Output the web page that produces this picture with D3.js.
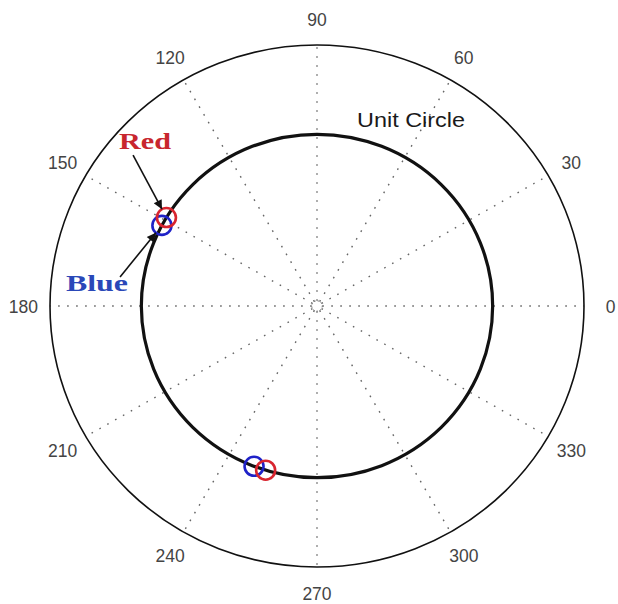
<!DOCTYPE html>
<html>
<head>
<meta charset="utf-8">
<script src="https://cdn.jsdelivr.net/npm/d3@7"></script>
<style>
  html, body { margin: 0; padding: 0; background: #fff; }
  svg { display: block; }
</style>
</head>
<body>
<svg id="chart" width="618" height="604"></svg>
<script>
// Polar axis: spoke angles (degrees) and their labels
const angleTicks = [0, 30, 60, 90, 120, 150, 180, 210, 240, 270, 300, 330];
const angleLabels = ["0", "30", "60", "90", "120", "150", "180", "210", "240", "270", "300", "330"];

// Radial extent of the plot and the unit circle
const radialMax = 1.52;
const unitRadius = [1];

// Root locations on the unit circle (angle in degrees, magnitude)
const redAngles = [149, 253];
const redRadii = [1, 1];
const blueAngles = [152, 249];
const blueRadii = [1, 1];

// Callout labels: text, arrow tail (polar, in data units)
const calloutNames = ["Red", "Blue"];
const calloutAngles = [140.0, 171.4];
const calloutRadii = [1.367, 1.134];

const svg = d3.select("#chart");
const cx = 317, cy = 306, rx = 267, ry = 261;

const x = d3.scaleLinear().domain([-radialMax, radialMax]).range([cx - rx, cx + rx]);
const y = d3.scaleLinear().domain([-radialMax, radialMax]).range([cy + ry, cy - ry]);
const rad = d => d * Math.PI / 180;
const px = (a, r) => x(r * Math.cos(rad(a)));
const py = (a, r) => y(r * Math.sin(rad(a)));

// Arrowhead marker
svg.append("defs").append("marker")
  .attr("id", "head")
  .attr("viewBox", "0 0 10 10")
  .attr("refX", 10).attr("refY", 5)
  .attr("markerWidth", 13).attr("markerHeight", 9)
  .attr("markerUnits", "userSpaceOnUse")
  .attr("orient", "auto")
  .append("path").attr("d", "M0,0 L10,5 L0,10 z").attr("fill", "#111");

// Dotted spokes
svg.append("g").selectAll("line").data(angleTicks).join("line")
  .attr("x1", a => px(a, 0.03)).attr("y1", a => py(a, 0.03))
  .attr("x2", a => px(a, radialMax)).attr("y2", a => py(a, radialMax))
  .attr("stroke", "#666").attr("stroke-width", 1.4)
  .attr("stroke-dasharray", "1.6,7.4");

// Small dotted ring at the origin
svg.append("ellipse")
  .attr("cx", x(0)).attr("cy", y(0))
  .attr("rx", x(0.03) - x(0)).attr("ry", y(0) - y(0.03))
  .attr("fill", "none").attr("stroke", "#777").attr("stroke-width", 1)
  .attr("stroke-dasharray", "1.5,2");

// Outer boundary
svg.append("ellipse")
  .attr("cx", x(0)).attr("cy", y(0))
  .attr("rx", x(radialMax) - x(0)).attr("ry", y(0) - y(radialMax))
  .attr("fill", "none").attr("stroke", "#111").attr("stroke-width", 1.6);

// Unit circle
svg.append("g").selectAll("ellipse").data(unitRadius).join("ellipse")
  .attr("cx", x(0)).attr("cy", y(0))
  .attr("rx", r => x(r) - x(0)).attr("ry", r => y(0) - y(r))
  .attr("fill", "none").attr("stroke", "#111").attr("stroke-width", 3.2);

// Angle labels
svg.append("g").selectAll("text").data(angleTicks).join("text")
  .attr("x", a => px(a, radialMax * 1.1))
  .attr("y", a => py(a, radialMax * 1.1))
  .attr("dy", "0.4em")
  .attr("text-anchor", "middle")
  .attr("font-family", "Liberation Sans, Arial, sans-serif")
  .attr("font-size", 17.5)
  .attr("fill", "#444")
  .text((a, i) => angleLabels[i]);

// "Unit Circle" caption
svg.append("text")
  .attr("x", 357).attr("y", 127)
  .attr("font-family", "Liberation Sans, Arial, sans-serif")
  .attr("font-size", 20)
  .attr("fill", "#1a1a1a")
  .attr("textLength", 108).attr("lengthAdjust", "spacingAndGlyphs")
  .text("Unit Circle");

// Root markers
const markerR = 9.5;
const roots = [
  ...blueAngles.map((a, i) => ({ a, r: blueRadii[i], c: "#1f22c8" })),
  ...redAngles.map((a, i) => ({ a, r: redRadii[i], c: "#d8252f" }))
];
svg.append("g").selectAll("circle").data(roots).join("circle")
  .attr("cx", d => px(d.a, d.r)).attr("cy", d => py(d.a, d.r))
  .attr("r", markerR)
  .attr("fill", "none").attr("stroke", d => d.c).attr("stroke-width", 2.6);

// Callout arrows pointing at the first red and first blue root
const targets = [
  { a: redAngles[0], r: redRadii[0] },
  { a: blueAngles[0], r: blueRadii[0] }
];
const callouts = calloutNames.map((name, i) => {
  const x1 = px(calloutAngles[i], calloutRadii[i]);
  const y1 = py(calloutAngles[i], calloutRadii[i]);
  const tx = px(targets[i].a, targets[i].r);
  const ty = py(targets[i].a, targets[i].r);
  const len = Math.hypot(tx - x1, ty - y1);
  const k = (len - markerR) / len;
  return { name, x1, y1, x2: x1 + (tx - x1) * k, y2: y1 + (ty - y1) * k };
});
svg.append("g").selectAll("line").data(callouts).join("line")
  .attr("x1", d => d.x1).attr("y1", d => d.y1)
  .attr("x2", d => d.x2).attr("y2", d => d.y2)
  .attr("stroke", "#111").attr("stroke-width", 1.6)
  .attr("marker-end", "url(#head)");

// Callout text
svg.append("text")
  .attr("x", 119).attr("y", 149)
  .attr("font-family", "Liberation Serif, Times New Roman, serif")
  .attr("font-weight", "bold").attr("font-size", 23)
  .attr("fill", "#c8262e")
  .attr("textLength", 52).attr("lengthAdjust", "spacingAndGlyphs")
  .text(calloutNames[0]);
svg.append("text")
  .attr("x", 66).attr("y", 291)
  .attr("font-family", "Liberation Serif, Times New Roman, serif")
  .attr("font-weight", "bold").attr("font-size", 23)
  .attr("fill", "#2a48b8")
  .attr("textLength", 62).attr("lengthAdjust", "spacingAndGlyphs")
  .text(calloutNames[1]);
</script>
</body>
</html>
